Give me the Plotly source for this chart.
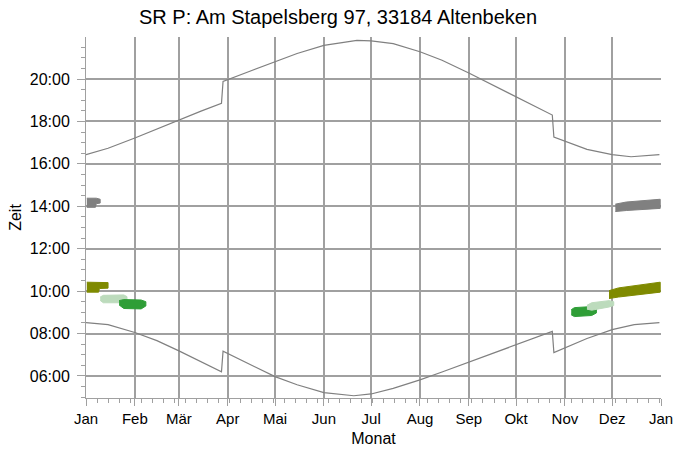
import plotly.graph_objects as go

# ---------------- data ----------------
sunrise_dates = ["2015-01-01", "2015-01-15", "2015-02-01", "2015-02-15", "2015-03-01",
                 "2015-03-15", "2015-03-28", "2015-03-29", "2015-04-15", "2015-05-01",
                 "2015-05-15", "2015-06-01", "2015-06-20", "2015-07-01", "2015-07-15",
                 "2015-08-01", "2015-08-15", "2015-09-01", "2015-09-15", "2015-10-01",
                 "2015-10-15", "2015-10-24", "2015-10-25", "2015-11-01", "2015-11-15",
                 "2015-12-01", "2015-12-15", "2015-12-31"]
sunrise_times = ["08:31", "08:25", "08:03", "07:40", "07:11", "06:41", "06:12", "07:10",
                 "06:32", "05:58", "05:35", "05:13", "05:04", "05:09", "05:25", "05:49",
                 "06:11", "06:39", "07:01", "07:28", "07:52", "08:06", "07:06", "07:20",
                 "07:46", "08:11", "08:25", "08:31"]

sunset_dates = ["2015-01-01", "2015-01-15", "2015-02-01", "2015-02-15", "2015-03-01",
                "2015-03-15", "2015-03-28", "2015-03-29", "2015-04-15", "2015-05-01",
                "2015-05-15", "2015-06-01", "2015-06-22", "2015-07-01", "2015-07-15",
                "2015-08-01", "2015-08-15", "2015-09-01", "2015-09-15", "2015-10-01",
                "2015-10-15", "2015-10-24", "2015-10-25", "2015-11-01", "2015-11-15",
                "2015-12-01", "2015-12-13", "2015-12-31"]
sunset_times = ["16:26", "16:44", "17:13", "17:39", "18:04", "18:29", "18:51", "19:53",
                "20:22", "20:49", "21:12", "21:35", "21:49", "21:48", "21:40", "21:17",
                "20:53", "20:17", "19:46", "19:11", "18:40", "18:18", "17:16", "17:04",
                "16:41", "16:26", "16:20", "16:26"]

# shadow periods: dates, start time (h), end time (h)
gray_l_dates = ["2015-01-01 12:00", "2015-01-07", "2015-01-07 12:00", "2015-01-10"]
gray_l_start = [13.95, 13.95, 14.12, 14.15]
gray_l_end = [14.38, 14.38, 14.38, 14.33]

olive_l_dates = ["2015-01-01 12:00", "2015-01-09", "2015-01-09 12:00", "2015-01-15"]
olive_l_start = [9.95, 9.95, 10.12, 10.14]
olive_l_end = [10.42, 10.42, 10.42, 10.40]

lgreen_l_dates = ["2015-01-10", "2015-01-12", "2015-01-25", "2015-01-27"]
lgreen_l_start = [9.56, 9.45, 9.45, 9.55]
lgreen_l_end = [9.72, 9.80, 9.82, 9.74]

green_l_dates = ["2015-01-22", "2015-01-25", "2015-02-05", "2015-02-08"]
green_l_start = [9.35, 9.18, 9.16, 9.30]
green_l_end = [9.55, 9.60, 9.58, 9.50]

green_r_dates = ["2015-11-05", "2015-11-07", "2015-11-18", "2015-11-21"]
green_r_start = [8.88, 8.80, 8.85, 8.97]
green_r_end = [9.12, 9.22, 9.27, 9.18]

lgreen_r_dates = ["2015-11-15", "2015-11-18", "2015-11-29", "2015-12-02"]
lgreen_r_start = [9.15, 9.10, 9.25, 9.32]
lgreen_r_end = [9.33, 9.45, 9.55, 9.50]

olive_r_dates = ["2015-11-29", "2015-12-05", "2015-12-31 12:00"]
olive_r_start = [9.65, 9.72, 9.95]
olive_r_end = [10.02, 10.15, 10.42]

gray_r_dates = ["2015-12-03", "2015-12-10", "2015-12-31 12:00"]
gray_r_start = [13.75, 13.80, 13.90]
gray_r_end = [14.10, 14.20, 14.33]

month_ticks = ["2015-01-01", "2015-02-01", "2015-03-01", "2015-04-01", "2015-05-01",
               "2015-06-01", "2015-07-01", "2015-08-01", "2015-09-01", "2015-10-01",
               "2015-11-01", "2015-12-01", "2016-01-01"]
month_labels = ["Jan", "Feb", "Mär", "Apr", "Mai", "Jun", "Jul", "Aug", "Sep", "Okt",
                "Nov", "Dez", "Jan"]
hour_ticks = [6, 8, 10, 12, 14, 16, 18, 20]
hour_labels = ["06:00", "08:00", "10:00", "12:00", "14:00", "16:00", "18:00", "20:00"]


def to_h(t):
    h, m = t.split(":")
    return int(h) + int(m) / 60.0


fig = go.Figure()

LINE = "#808080"
fig.add_trace(go.Scatter(x=sunrise_dates, y=[to_h(t) for t in sunrise_times],
                         mode="lines", line=dict(color=LINE, width=1.2), showlegend=False))
fig.add_trace(go.Scatter(x=sunset_dates, y=[to_h(t) for t in sunset_times],
                         mode="lines", line=dict(color=LINE, width=1.2), showlegend=False))

blocks = [
    (gray_l_dates, gray_l_start, gray_l_end, "#808080"),
    (olive_l_dates, olive_l_start, olive_l_end, "#7f8a00"),
    (lgreen_l_dates, lgreen_l_start, lgreen_l_end, "#bcdbbc"),
    (green_l_dates, green_l_start, green_l_end, "#2f9e37"),
    (green_r_dates, green_r_start, green_r_end, "#2f9e37"),
    (lgreen_r_dates, lgreen_r_start, lgreen_r_end, "#bcdbbc"),
    (olive_r_dates, olive_r_start, olive_r_end, "#7f8a00"),
    (gray_r_dates, gray_r_start, gray_r_end, "#808080"),
]
for d, s, e, c in blocks:
    fig.add_trace(go.Scatter(x=list(d) + list(d)[::-1], y=list(e) + list(s)[::-1],
                             mode="lines", fill="toself", fillcolor=c,
                             line=dict(color=c, width=1), showlegend=False,
                             hoverinfo="skip"))

GRID = "#a0a0a0"
W, H = 676, 450
fig.update_layout(
    width=W, height=H,
    margin=dict(l=86, r=15, t=37, b=52, autoexpand=False),
    paper_bgcolor="white", plot_bgcolor="white",
    font=dict(family="Liberation Sans, Arial, sans-serif", size=16, color="#000000"),
    title=dict(text="SR P: Am Stapelsberg 97, 33184 Altenbeken", x=0.5, xanchor="center",
               y=1 - 17 / H, yanchor="middle", font=dict(size=20)),
    xaxis=dict(type="date", range=["2015-01-01", "2016-01-01"],
               tickmode="array", tickvals=month_ticks, ticktext=month_labels,
               tickfont=dict(size=15),
               showgrid=True, gridcolor=GRID, gridwidth=1.5,
               showline=True, linecolor=GRID, linewidth=1,
               ticks="outside", ticklen=7, tickcolor=GRID,
               minor=dict(dtick=7 * 86400000, tick0="2015-01-01", ticks="outside",
                          ticklen=4, tickcolor=GRID, showgrid=False),
               title=dict(text="Monat", standoff=6, font=dict(size=16)), zeroline=False,
               automargin=False),
    yaxis=dict(range=[4.96, 21.98], tickmode="array", tickvals=hour_ticks,
               ticktext=hour_labels, tickfont=dict(size=16), ticklabelstandoff=4,
               showgrid=True, gridcolor=GRID, gridwidth=1.5,
               showline=True, linecolor=GRID, linewidth=1,
               ticks="outside", ticklen=8, tickcolor=GRID,
               minor=dict(tickmode="linear", dtick=0.5, tick0=0, ticks="outside",
                          ticklen=4, tickcolor=GRID, showgrid=False),
               title=dict(text="Zeit", standoff=4, font=dict(size=16)), zeroline=False,
               automargin=False),
)

fig.write_html("out.html", config={"displayModeBar": False},
               post_script="document.body.style.margin='0';document.body.style.overflow='hidden';")
